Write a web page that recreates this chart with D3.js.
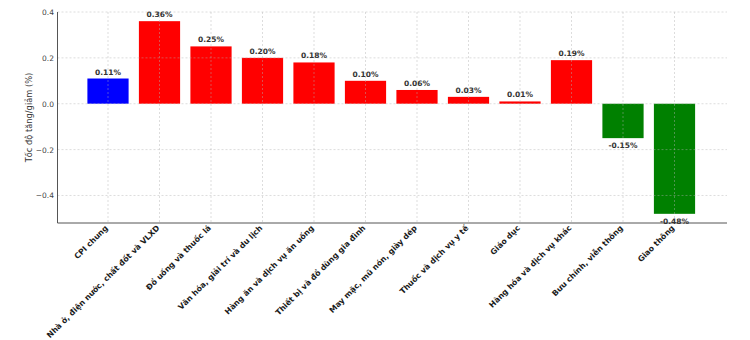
<!DOCTYPE html>
<html><head><meta charset="utf-8">
<script src="https://cdn.jsdelivr.net/npm/d3@7/dist/d3.min.js"></script>
<style>body{margin:0;background:#fff}svg{display:block}</style>
</head><body><svg id="c" width="750" height="340"></svg>
<script>
const categories = ["CPI chung","Nhà ở, điện nước, chất đốt và VLXD","Đồ uống và thuốc lá","Văn hóa, giải trí và du lịch","Hàng ăn và dịch vụ ăn uống","Thiết bị và đồ dùng gia đình","May mặc, mũ nón, giày dép","Thuốc và dịch vụ y tế","Giáo dục","Hàng hóa và dịch vụ khác","Bưu chính, viễn thông","Giao thông"];
const values = [0.11,0.36,0.25,0.20,0.18,0.10,0.06,0.03,0.01,0.19,-0.15,-0.48];
const yTicks = [-0.4,-0.2,0.0,0.2,0.4];
const yLabel = "Tốc độ tăng/giảm (%)";

const svg = d3.select("#c");
const L = 57.5, R = 727, T = 12, B = 223;
const x = d3.scaleBand().domain(categories).range([82.25, 700.25]).padding(0);
const y = d3.scaleLinear().domain([-0.52, 0.4]).range([B, T]);
const font = "DejaVu Sans, sans-serif";
const color = (c,i) => i===0 ? "#0000ff" : (values[i] >= 0 ? "#ff0000" : "#008000");

// bars
const bw = x.bandwidth()*0.8;
svg.append("g").selectAll("rect").data(categories).join("rect")
  .attr("x", d => x(d) + x.bandwidth()/2 - bw/2)
  .attr("width", bw)
  .attr("y", (d,i) => y(Math.max(0, values[i])))
  .attr("height", (d,i) => Math.abs(y(values[i]) - y(0)))
  .attr("fill", color);

// grid
const g = svg.append("g").attr("stroke","#b0b0b0").attr("stroke-opacity",0.55).attr("stroke-width",0.8).attr("stroke-dasharray","2,2");
g.selectAll(".h").data(yTicks).join("line").attr("x1",L).attr("x2",R).attr("y1",d=>y(d)).attr("y2",d=>y(d));
g.selectAll(".v").data(categories).join("line").attr("x1",d=>x(d)+x.bandwidth()/2).attr("x2",d=>x(d)+x.bandwidth()/2).attr("y1",T).attr("y2",B);

// axes
const ya = svg.append("g").attr("transform",`translate(${L},0)`)
  .call(d3.axisLeft(y).tickValues(yTicks).tickSize(0).tickPadding(3.5).tickFormat(d => d3.format(".1f")(d).replace("-","−")));
ya.select(".domain").attr("d", `M0,${T}V${B}`);
const xa = svg.append("g").attr("transform",`translate(0,${B})`)
  .call(d3.axisBottom(x).tickSize(0).tickSizeOuter(0).tickFormat(""));
xa.select(".domain").attr("d", `M${L},0H${R}`);
svg.selectAll(".domain").attr("stroke","#555");
ya.selectAll("text").attr("font-family",font).attr("font-size",7.5).attr("fill","#444");

// category labels
svg.append("g").selectAll("text").data(categories).join("text")
  .attr("transform", d => `translate(${x(d)+x.bandwidth()/2+0.5},${B+5.5}) rotate(-45)`)
  .attr("text-anchor","end").attr("font-family",font).attr("font-size",7.8).attr("font-weight","bold").attr("fill","#1a1a1a")
  .text(d=>d);

// value labels
svg.append("g").selectAll("text").data(categories).join("text")
  .attr("x", d => x(d)+x.bandwidth()/2)
  .attr("y", (d,i) => values[i] >= 0 ? y(values[i]) - 4 : y(values[i]) + 10)
  .attr("text-anchor","middle").attr("font-family",font).attr("font-size",7.5).attr("font-weight","bold").attr("fill","#333")
  .text((d,i)=> values[i].toFixed(2) + "%");

// y label
svg.append("text").attr("transform",`translate(32,${(T+B)/2}) rotate(-90)`)
  .attr("text-anchor","middle").attr("font-family",font).attr("font-size",8.3).attr("fill","#333").text(yLabel);
</script></body></html>
